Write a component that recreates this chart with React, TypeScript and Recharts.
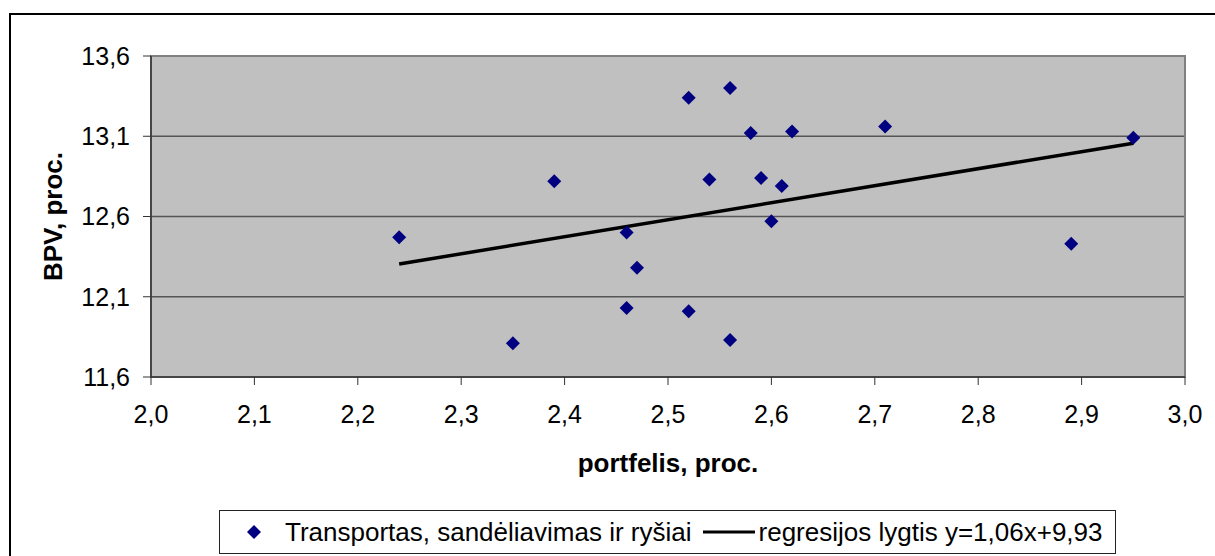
import React from "react";
import {
  ScatterChart,
  Scatter,
  XAxis,
  YAxis,
  CartesianGrid,
  ReferenceArea,
  Legend,
} from "recharts";

const xValues = [2.24, 2.35, 2.39, 2.46, 2.46, 2.47, 2.52, 2.52, 2.54, 2.56, 2.56, 2.58, 2.59, 2.6, 2.61, 2.62, 2.71, 2.89, 2.95];
const yValues = [12.47, 11.81, 12.82, 12.5, 12.03, 12.28, 13.34, 12.01, 12.83, 13.4, 11.83, 13.12, 12.84, 12.57, 12.79, 13.13, 13.16, 12.43, 13.09];

const regressionX = [2.24, 2.95];
const regressionY = [12.304, 13.057];

const xTicks = [2.0, 2.1, 2.2, 2.3, 2.4, 2.5, 2.6, 2.7, 2.8, 2.9, 3.0];
const yTicks = [11.6, 12.1, 12.6, 13.1, 13.6];

const seriesName = "Transportas, sandėliavimas ir ryšiai";
const regressionName = "regresijos lygtis y=1,06x+9,93";

const points = xValues.map((x, i) => ({ x, y: yValues[i] }));
const regression = regressionX.map((x, i) => ({ x, y: regressionY[i] }));

const FONT = '"Liberation Sans", Arial, sans-serif';
const comma = (v: number) => v.toFixed(1).replace(".", ",");

const Diamond = (props: any) => {
  const { cx, cy } = props;
  const r = 7;
  return (
    <path
      d={`M${cx},${cy - r}L${cx + r},${cy}L${cx},${cy + r}L${cx - r},${cy}Z`}
      fill="#000080"
    />
  );
};

const YTitle = (props: any) => {
  const vb = props.viewBox || { x: 0, y: 56, width: 151, height: 321 };
  const cx = 53;
  const cy = vb.y + vb.height / 2;
  return (
    <text
      x={cx}
      y={cy}
      transform={`rotate(-90, ${cx}, ${cy})`}
      textAnchor="middle"
      dominantBaseline="central"
      fontFamily={FONT}
      fontWeight="bold"
      fontSize={26}
      fill="#000"
    >
      BPV, proc.
    </text>
  );
};

const XTitle = (props: any) => {
  const vb = props.viewBox || { x: 151, y: 377, width: 1034, height: 179 };
  return (
    <text
      x={vb.x + vb.width / 2}
      y={vb.y + 95}
      textAnchor="middle"
      fontFamily={FONT}
      fontWeight="bold"
      fontSize={26}
      fill="#000"
    >
      portfelis, proc.
    </text>
  );
};

const LegendBox = () => (
  <div
    style={{
      boxSizing: "border-box",
      width: "100%",
      height: "100%",
      border: "1px solid #222",
      background: "#fff",
      display: "flex",
      alignItems: "center",
      fontFamily: FONT,
      fontSize: 26,
      color: "#000",
      whiteSpace: "nowrap",
      paddingLeft: 27,
    }}
  >
    <svg width={14} height={14} style={{ marginRight: 24 }}>
      <path d="M7,0L14,7L7,14L0,7Z" fill="#000080" />
    </svg>
    <span>{seriesName}</span>
    <svg width={52} height={6} style={{ marginLeft: 11, marginRight: 4 }}>
      <line x1={0} y1={3} x2={52} y2={3} stroke="#000" strokeWidth={3} />
    </svg>
    <span>{regressionName}</span>
  </div>
);

export default function App() {
  return (
    <div
      style={{
        position: "absolute",
        left: 0,
        top: 0,
        width: 1215,
        height: 556,
        background: "#fff",
        overflow: "hidden",
      }}
    >
      <div
        style={{
          position: "absolute",
          left: 9,
          top: 13,
          width: 1400,
          height: 800,
          border: "2px solid #000",
        }}
      />
      <div style={{ position: "absolute", left: 0, top: 0 }}>
        <ScatterChart
          width={1215}
          height={556}
          margin={{ top: 56, right: 30, bottom: 0, left: 0 }}
        >
          <CartesianGrid
            vertical={false}
            fill="#C0C0C0"
            fillOpacity={1}
            stroke="#555"
            strokeWidth={1.5}
          />
          <ReferenceArea
            x1={2}
            x2={3}
            y1={11.6}
            y2={13.6}
            fill="none"
            stroke="#808080"
            strokeWidth={2}
            ifOverflow="visible"
          />
          <XAxis
            type="number"
            dataKey="x"
            domain={[2, 3]}
            ticks={xTicks}
            tickFormatter={comma}
            height={179}
            tickSize={8}
            tickMargin={20}
            allowDataOverflow
            axisLine={{ stroke: "#333", strokeWidth: 1.5 }}
            tickLine={{ stroke: "#333" }}
            tick={{ fill: "#000", fontSize: 25, fontFamily: FONT }}
            label={<XTitle />}
          />
          <YAxis
            type="number"
            dataKey="y"
            domain={[11.6, 13.6]}
            ticks={yTicks}
            tickFormatter={comma}
            width={151}
            tickSize={8}
            tickMargin={13}
            allowDataOverflow
            axisLine={{ stroke: "#333", strokeWidth: 1.5 }}
            tickLine={{ stroke: "#333" }}
            tick={{ fill: "#000", fontSize: 25, fontFamily: FONT }}
            label={<YTitle />}
          />
          <Scatter
            name={regressionName}
            data={regression}
            line={{ stroke: "#000", strokeWidth: 3.5 }}
            shape={() => <g />}
            isAnimationActive={false}
          />
          <Scatter
            name={seriesName}
            data={points}
            shape={Diamond}
            isAnimationActive={false}
          />
          <Legend
            layout="vertical"
            align="center"
            verticalAlign="middle"
            content={<LegendBox />}
            wrapperStyle={{ left: 219, top: 510, width: 897, height: 44 }}
          />
        </ScatterChart>
      </div>
    </div>
  );
}
